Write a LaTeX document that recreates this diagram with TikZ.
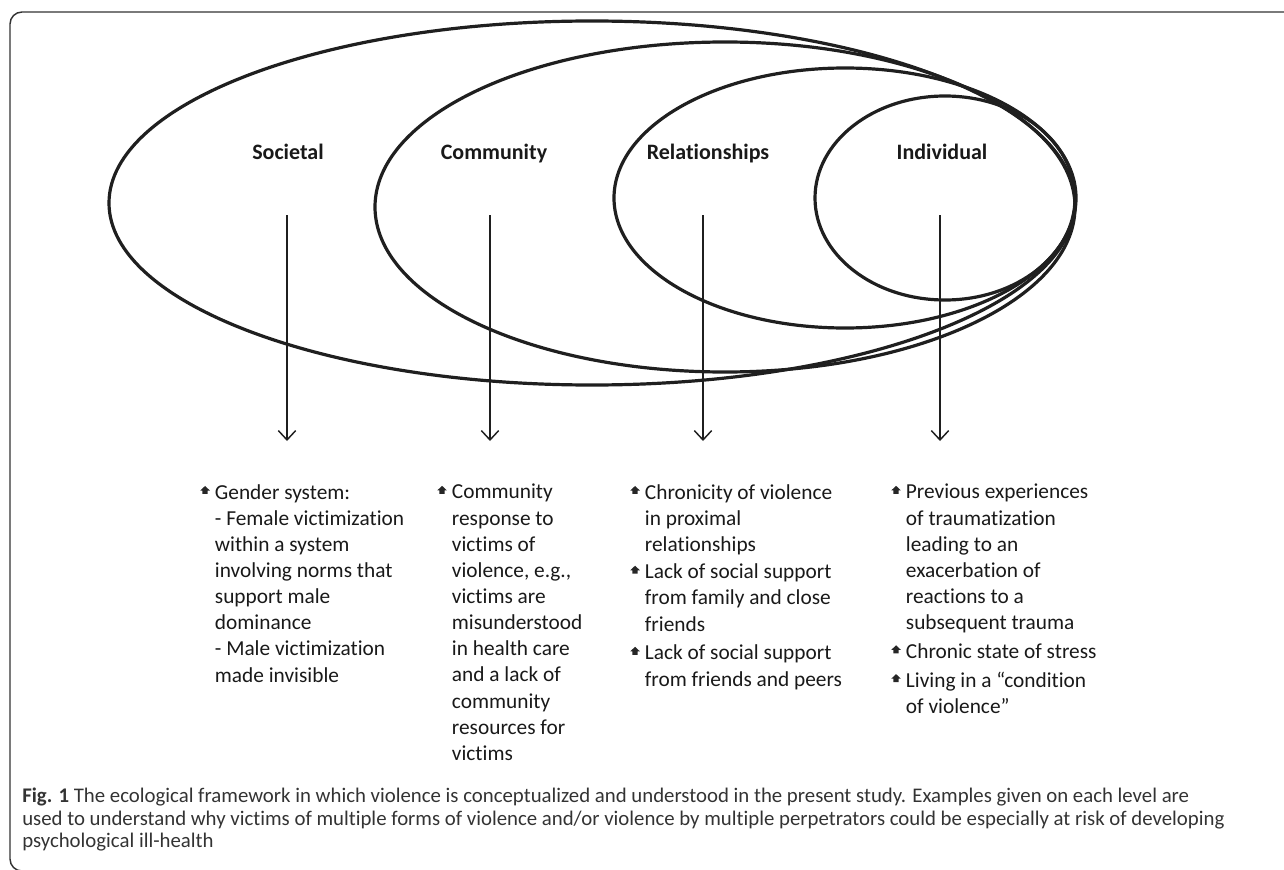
\documentclass[tikz,border=0pt]{standalone}
\usepackage{fontspec}
\setmainfont{Carlito}[Ligatures=NoCommon]
\usetikzlibrary{arrows.meta}
\newcommand\hblt{\makebox[11pt][l]{\raisebox{0.5ex}{\tikz[x=1pt,y=1pt,baseline=0pt]\fill[black!85] (1.6,0)--(1.6,2.6)--(0,2.6)--(3.6,6)--(7.2,2.6)--(5.6,2.6)--(5.6,0)--cycle;}}}
\newcommand\hind{\hspace*{11pt}}
\tikzset{
  ring/.style={draw=black!88, line width=2.4pt},
  lvl/.style={font=\bfseries\fontsize{16.5}{19}\selectfont, text=black!90, inner sep=0pt, anchor=base},
  down/.style={draw=black!88, line width=1.1pt, -{Straight Barb[length=7pt,width=13pt,line width=1.1pt]}},
  items/.style={font=\fontsize{16}{19.6}\selectfont, text=black!90, align=left, anchor=north west, inner sep=0pt},
  captxt/.style={font=\fontsize{15.6}{16.9}\selectfont, text=black!80, align=left, anchor=north west, inner sep=0pt}
}
\begin{document}
\begin{tikzpicture}[x=0.75pt,y=-0.75pt]
\useasboundingbox (0,0) rectangle (1284,870);
% frame
\draw[black!80, line width=1.1pt, rounded corners=9pt] (1310,12) -- (10,12) -- (10,871) -- (1310,871);
% ellipses
\draw[ring] (592,203) ellipse [x radius=483, y radius=182];
\draw[ring] (725,207) ellipse [x radius=350, y radius=165];
\draw[ring] (845,198) ellipse [x radius=231, y radius=130];
\draw[ring] (945,198) ellipse [x radius=130, y radius=102];
% labels
\node[lvl] (soc) at (288,160) {Societal};
\node[lvl] (com) at (494,160) {Community};
\node[lvl] (rel) at (708,160) {Relationships};
\node[lvl] (ind) at (942,160) {Individual};
% arrow ends
\coordinate (s1) at (287,215); \coordinate (s2) at (287,441);
\coordinate (c1) at (490,215); \coordinate (c2) at (490,441);
\coordinate (r1) at (703,215); \coordinate (r2) at (703,441);
\coordinate (i1) at (940,215); \coordinate (i2) at (940,441);
\draw[down] (s1) -- (s2);
\draw[down] (c1) -- (c2);
\draw[down] (r1) -- (r2);
\draw[down] (i1) -- (i2);
% item blocks
\node[items] (tsoc) at (200,484) {\hblt Gender system:\\
\hind - Female victimization\\
\hind within a system\\
\hind involving norms that\\
\hind support male\\
\hind dominance\\
\hind - Male victimization\\
\hind made invisible};
\node[items] (tcom) at (437,484) {\hblt Community\\
\hind response to\\
\hind victims of\\
\hind violence, e.g.,\\
\hind victims are\\
\hind misunderstood\\
\hind in health care\\
\hind and a lack of\\
\hind community\\
\hind resources for\\
\hind victims};
\node[items] (trel) at (630,484) {\hblt Chronicity of violence\\
\hind in proximal\\
\hind relationships\\[1pt]
\hblt Lack of social support\\
\hind from family and close\\
\hind friends\\[2pt]
\hblt Lack of social support\\
\hind from friends and peers};
\node[items] (tind) at (891,484) {\hblt Previous experiences\\
\hind of traumatization\\
\hind leading to an\\
\hind exacerbation of\\
\hind reactions to a\\
\hind subsequent trauma\\[2pt]
\hblt Chronic state of stress\\[2pt]
\hblt Living in a “condition\\
\hind of violence”};
% caption
\node[captxt] (capt) at (22,788) {\textbf{Fig. 1} The ecological framework in which violence is conceptualized and understood in the present study. Examples given on each level are\\
used to understand why victims of multiple forms of violence and/or violence by multiple perpetrators could be especially at risk of developing\\
psychological ill-health};
\end{tikzpicture}
\end{document}
